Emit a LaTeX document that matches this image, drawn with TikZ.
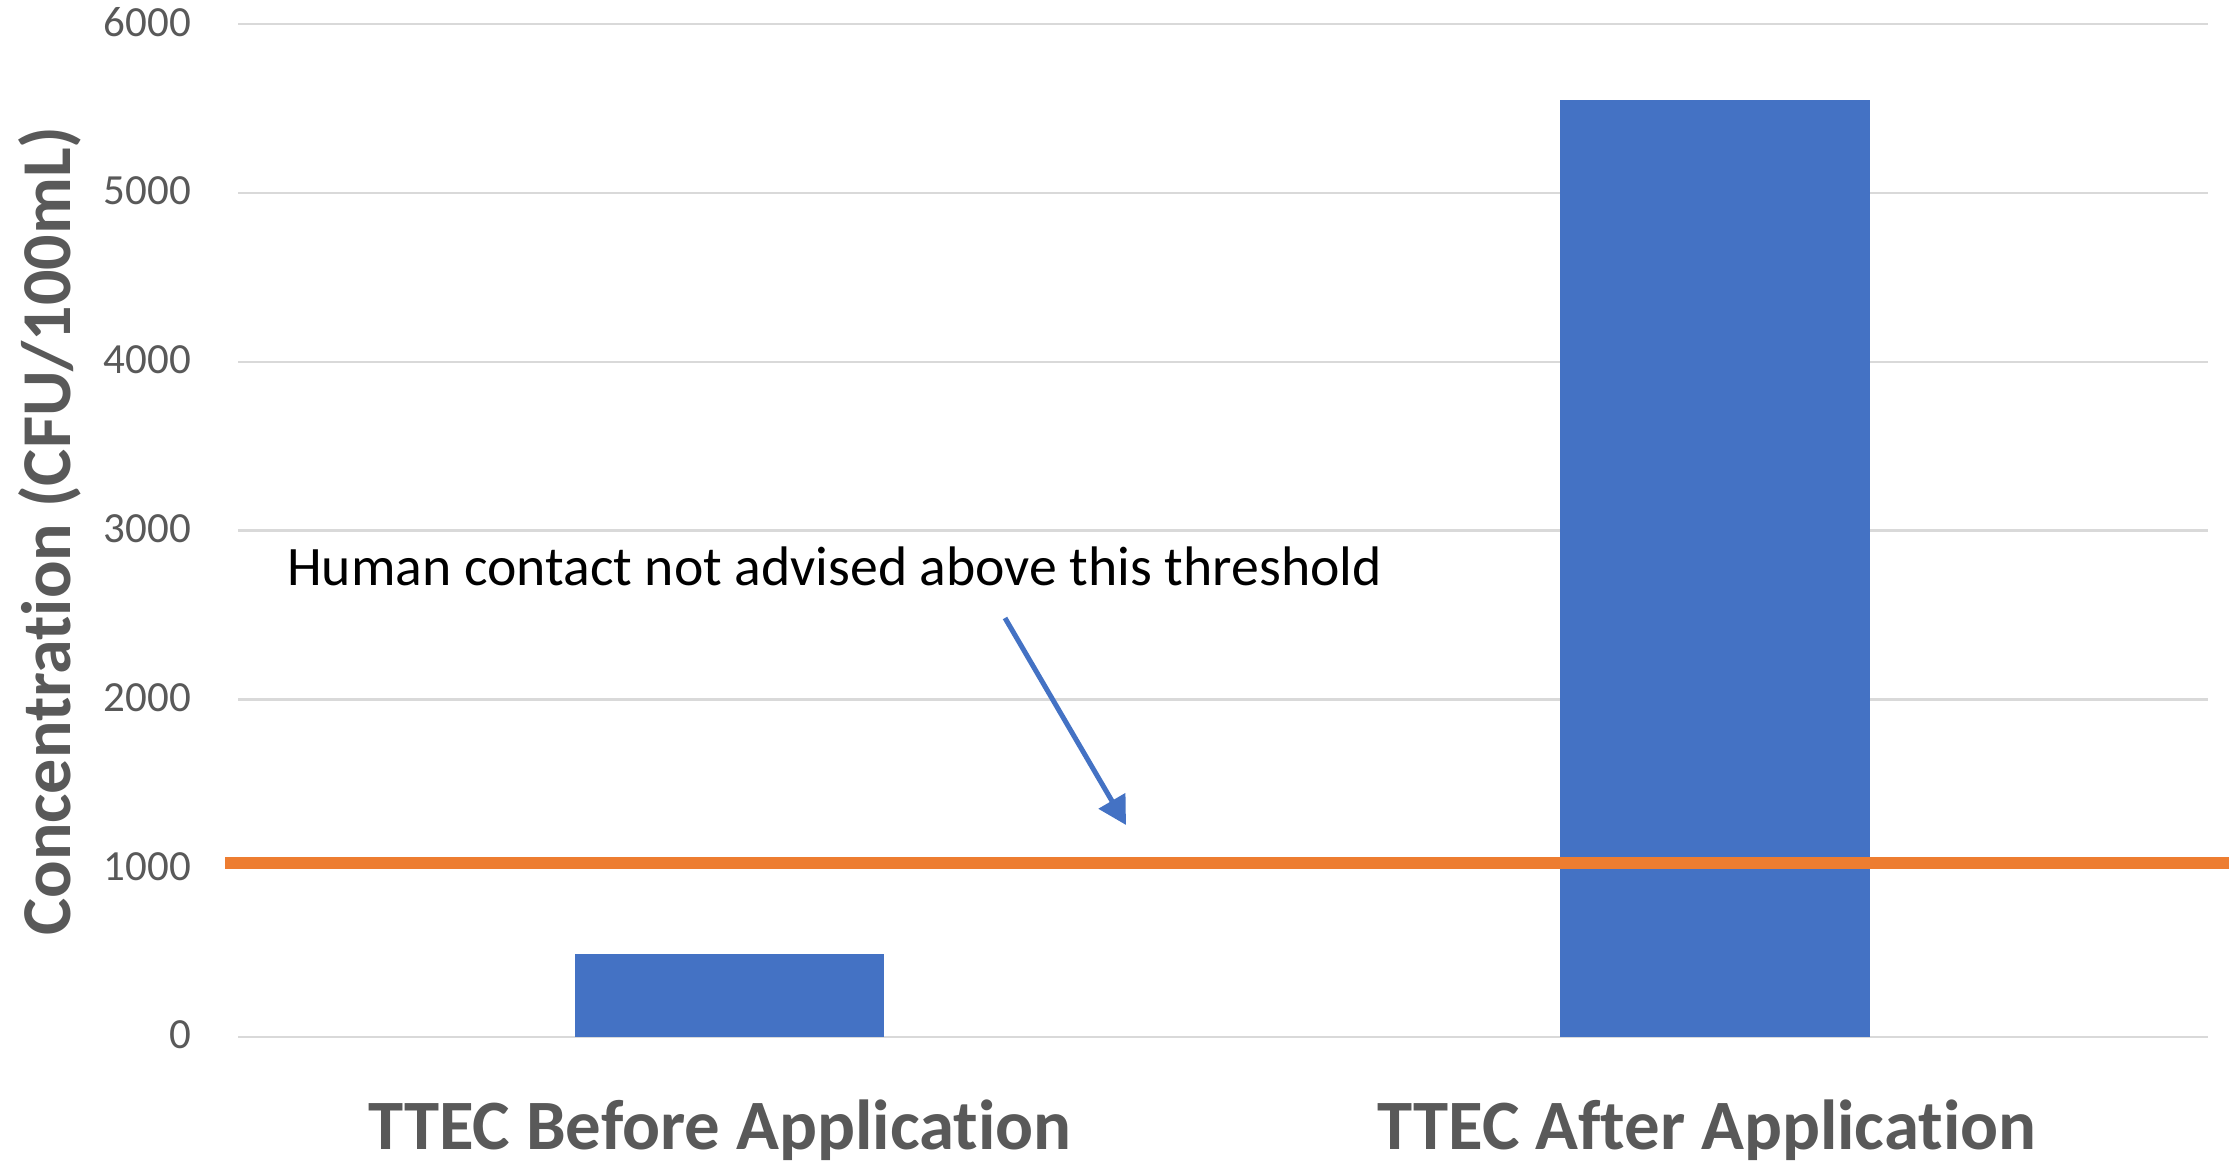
\documentclass[tikz,border=0pt]{standalone}
\usepackage{fontspec}
\setmainfont{Carlito}[Ligatures=CommonOff]
\usetikzlibrary{arrows.meta}
\definecolor{barblue}{HTML}{4472C4}
\definecolor{limitorange}{HTML}{ED7D31}
\definecolor{gridgray}{HTML}{D9D9D9}
\definecolor{labelgray}{HTML}{595959}
\begin{document}
\begin{tikzpicture}[x=1pt,y=-1pt,
  gridline/.style={gridgray, line width=2.5pt},
  ticklabel/.style={anchor=east, inner sep=0pt, text=labelgray,
    font=\fontsize{43}{50}\selectfont},
  bar/.style={fill=barblue, draw=none, inner sep=0pt, outer sep=0pt,
    anchor=south west},
  catlabel/.style={anchor=base, inner sep=0pt, text=labelgray,
    font=\fontsize{70.8}{80}\selectfont\bfseries},
  axistitle/.style={rotate=90, anchor=base, inner sep=0pt, text=labelgray,
    font=\fontsize{70}{80}\selectfont\bfseries},
  note/.style={anchor=base west, inner sep=0pt, text=black,
    font=\fontsize{55.7}{64}\selectfont},
  limitline/.style={limitorange, line width=12pt},
  pointer/.style={barblue, line width=5pt,
    -{Triangle[length=28pt, width=30pt]}}
]
\useasboundingbox (0,0) rectangle (2234,1164);
\fill[white] (0,0) rectangle (2234,1164);

% horizontal grid and value axis labels (168.8 px per 1000 CFU/100mL)
\foreach \v/\y in {0/1037, 1000/868.2, 2000/699.4, 3000/530.6,
                   4000/361.8, 5000/193, 6000/24.2} {
  \draw[gridline] (238,\y) -- (2208,\y);
  \node[ticklabel] (tick\v) at (191,\y-2) {\v};
}

% bars
\node[bar, minimum width=309pt, minimum height=83pt] (barBefore) at (575,1037) {};
\node[bar, minimum width=310pt, minimum height=937pt] (barAfter) at (1560,1037) {};

% threshold line
\coordinate (limitStart) at (225,863);
\coordinate (limitEnd) at (2229,863);
\draw[limitline] (limitStart) -- (limitEnd);

% annotation
\node[note] (noteText) at (287,585) {Human contact not advised above this threshold};
\coordinate (arrowTail) at (1005,618);
\coordinate (arrowTip) at (1126,825);
\draw[pointer] (arrowTail) -- (arrowTip);

% axis titles and category labels
\node[axistitle] (yTitle) at (70,531) {Concentration (CFU/100mL)};
\node[catlabel] (catBefore) at (720,1149) {TTEC Before Application};
\node[catlabel] (catAfter) at (1707,1149) {TTEC After Application};
\end{tikzpicture}
\end{document}
